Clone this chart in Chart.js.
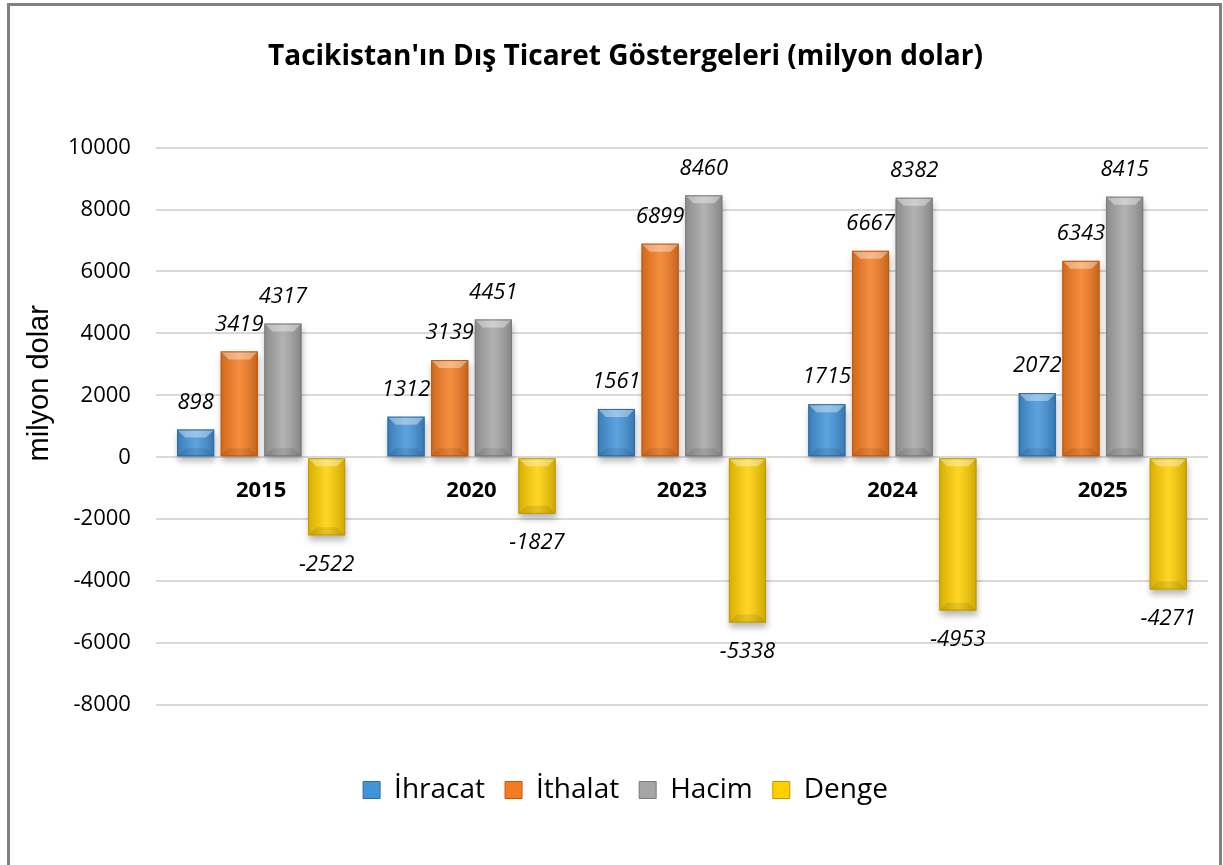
<!DOCTYPE html>
<html lang="tr">
<head>
<meta charset="utf-8">
<title>Tacikistan'ın Dış Ticaret Göstergeleri</title>
<script src="https://cdn.jsdelivr.net/npm/chart.js@4.4.1/dist/chart.umd.min.js"></script>
<style>
  html, body { margin: 0; padding: 0; background: #fff; overflow: hidden; }
  #cerceve {
    position: absolute; left: 7px; top: 3px; width: 1209px; height: 900px;
    border: 3px solid #808080; box-sizing: content-box;
  }
  #kutu { position: absolute; left: 0; top: 0; width: 1223px; height: 865px; }
</style>
</head>
<body>
<div id="cerceve"></div>
<div id="kutu"><canvas id="grafik" width="1223" height="865"></canvas></div>
<script>
// Veriler (milyon dolar)
const yillar = ["2015", "2020", "2023", "2024", "2025"];
const seriAdlari = ["İhracat", "İthalat", "Hacim", "Denge"];
const ihracat = [898, 1312, 1561, 1715, 2072];
const ithalat = [3419, 3139, 6899, 6667, 6343];
const hacim = [4317, 4451, 8460, 8382, 8415];
const denge = [-2522, -1827, -5338, -4953, -4271];
const eksenMin = -8000;
const eksenMax = 10000;
const eksenAdim = 2000;

const renkler = ["#4294d9", "#f47b20", "#a5a5a5", "#ffcf00"];
const kenarRenkler = ["#2a6aa6", "#c0580e", "#7a7a7a", "#bf9a00"];

// Bar altındaki gölge
const golgePlugin = {
  id: "golge",
  beforeDatasetsDraw(chart) {
    const ctx = chart.ctx;
    ctx.save();
    ctx.filter = "blur(3px)";
    ctx.fillStyle = "rgba(0,0,0,0.28)";
    chart.data.datasets.forEach((ds, i) => {
      chart.getDatasetMeta(i).data.forEach((bar) => {
        const p = bar.getProps(["x", "y", "base", "width"], true);
        const ust = Math.min(p.y, p.base);
        const alt = Math.max(p.y, p.base);
        ctx.fillRect(p.x - p.width / 2 + 1, ust + 5, p.width, alt - ust);
      });
    });
    ctx.restore();
  },
};

// Excel benzeri kabartma (bevel) görünümü
const kabartmaPlugin = {
  id: "kabartma",
  afterDatasetsDraw(chart) {
    const ctx = chart.ctx;
    ctx.save();
    chart.data.datasets.forEach((ds, i) => {
      chart.getDatasetMeta(i).data.forEach((bar) => {
        const p = bar.getProps(["x", "y", "base", "width"], true);
        const sol = p.x - p.width / 2;
        const sag = p.x + p.width / 2;
        const ust = Math.min(p.y, p.base);
        const alt = Math.max(p.y, p.base);
        const b = Math.min(8, (alt - ust) / 2);

        const g = ctx.createLinearGradient(sol, 0, sag, 0);
        g.addColorStop(0, "rgba(0,0,0,0.16)");
        g.addColorStop(0.5, "rgba(255,255,255,0.14)");
        g.addColorStop(1, "rgba(0,0,0,0.2)");
        ctx.fillStyle = g;
        ctx.fillRect(sol, ust, p.width, alt - ust);

        ctx.fillStyle = "rgba(255,255,255,0.38)";
        ctx.beginPath();
        ctx.moveTo(sol, ust);
        ctx.lineTo(sag, ust);
        ctx.lineTo(sag - b, ust + b);
        ctx.lineTo(sol + b, ust + b);
        ctx.closePath();
        ctx.fill();

        ctx.fillStyle = "rgba(0,0,0,0.09)";
        ctx.beginPath();
        ctx.moveTo(sol, alt);
        ctx.lineTo(sag, alt);
        ctx.lineTo(sag - b, alt - b);
        ctx.lineTo(sol + b, alt - b);
        ctx.closePath();
        ctx.fill();

        ctx.strokeStyle = kenarRenkler[i];
        ctx.lineWidth = 1;
        ctx.strokeRect(sol + 0.5, ust + 0.5, p.width - 1, alt - ust - 1);
      });
    });
    ctx.restore();
  },
};

// Değer etiketleri (italik)
const etiketPlugin = {
  id: "etiketler",
  afterDatasetsDraw(chart) {
    const ctx = chart.ctx;
    ctx.save();
    ctx.font = "italic 22px 'Open Sans'";
    ctx.fillStyle = "#000";
    ctx.textAlign = "center";
    ctx.textBaseline = "middle";
    chart.data.datasets.forEach((ds, i) => {
      chart.getDatasetMeta(i).data.forEach((bar, j) => {
        const v = ds.data[j];
        const p = bar.getProps(["x", "y"], true);
        const y = v >= 0 ? p.y - 27 : p.y + 29;
        ctx.fillText(String(v), p.x, y);
      });
    });
    ctx.restore();
  },
};

// Dikey eksen başlığı
const eksenBasligi = {
  id: "eksenBasligi",
  afterDraw(chart) {
    const ctx = chart.ctx;
    const alan = chart.chartArea;
    ctx.save();
    ctx.translate(40, (alan.top + alan.bottom) / 2 - 43);
    ctx.rotate(-Math.PI / 2);
    ctx.font = "29px 'Liberation Sans'";
    ctx.fillStyle = "#000";
    ctx.textAlign = "center";
    ctx.textBaseline = "middle";
    ctx.fillText("milyon dolar", 0, 0);
    ctx.restore();
  },
};

const ctx = document.getElementById("grafik").getContext("2d");
const grafik = new Chart(ctx, {
  type: "bar",
  data: {
    labels: yillar,
    datasets: [ihracat, ithalat, hacim, denge].map((veri, i) => ({
      label: seriAdlari[i],
      data: veri,
      backgroundColor: renkler[i],
      borderWidth: 0,
      categoryPercentage: 0.83,
      barPercentage: 0.85,
    })),
  },
  options: {
    responsive: false,
    animation: false,
    layout: { padding: { left: 43, right: 15, top: 0, bottom: 51 } },
    plugins: {
      title: {
        display: true,
        text: "Tacikistan'ın Dış Ticaret Göstergeleri (milyon dolar)",
        color: "#000",
        font: { family: "'Open Sans'", size: 28, weight: "bold" },
        padding: { top: 40, bottom: 74 },
      },
      legend: {
        position: "bottom",
        labels: {
          color: "#000",
          font: { family: "'Open Sans'", size: 28 },
          boxWidth: 17,
          boxHeight: 17,
          padding: 20,
          generateLabels(chart) {
            return chart.data.datasets.map((ds, i) => ({
              text: ds.label,
              fillStyle: renkler[i],
              strokeStyle: kenarRenkler[i],
              lineWidth: 1,
              fontColor: "#000",
              datasetIndex: i,
            }));
          },
        },
      },
      tooltip: { enabled: false },
    },
    scales: {
      x: {
        position: { y: 0 },
        grid: { display: false, drawTicks: false },
        border: { display: false },
        ticks: {
          color: "#000",
          font: { family: "'Open Sans'", size: 22, weight: "bold" },
          padding: 20,
        },
      },
      bosluk: {
        type: "category",
        labels: [],
        position: "bottom",
        grid: { display: false, drawTicks: false },
        border: { display: false },
        ticks: { display: false },
        afterFit(scale) { scale.height = 51; },
      },
      y: {
        min: eksenMin,
        max: eksenMax,
        ticks: {
          stepSize: eksenAdim,
          color: "#000",
          font: { family: "'Open Sans'", size: 22 },
          padding: 25,
          callback: (v) => String(v),
        },
        grid: { color: "#d9d9d9", lineWidth: 2, drawTicks: false },
        border: { display: false },
      },
    },
  },
  plugins: [golgePlugin, kabartmaPlugin, etiketPlugin, eksenBasligi],
});
</script>
</body>
</html>
